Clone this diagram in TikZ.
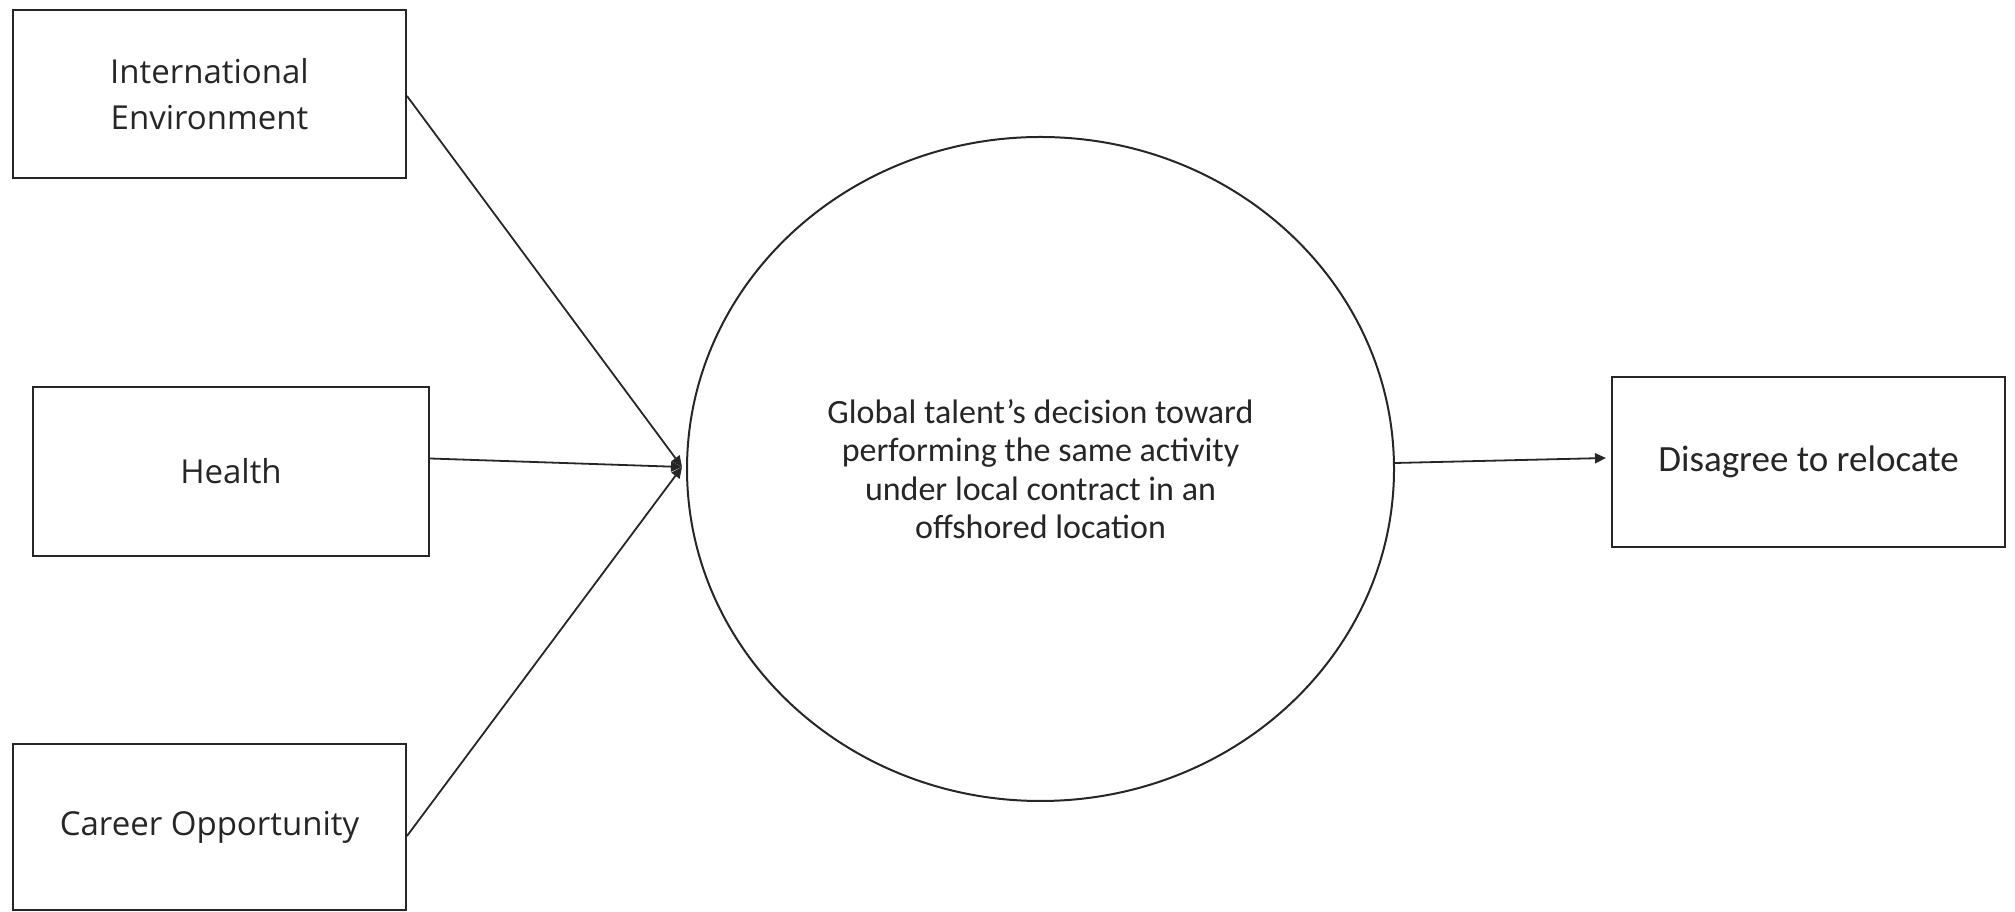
\documentclass[tikz,border=0pt]{standalone}
\usepackage{fontspec}
\newfontfamily\boxfont{Open Sans}
\newfontfamily\calfont{Carlito}
\usetikzlibrary{shapes.geometric,arrows.meta}
\tikzset{
  factor/.style={draw=black!85, line width=2pt, rectangle, inner sep=0pt, text=black!85,
    align=center, font=\boxfont\fontsize{33}{46}\selectfont},
  outbox/.style={draw=black!85, line width=2pt, rectangle, inner sep=0pt, text=black!85,
    align=center, font=\calfont\fontsize{37}{44}\selectfont},
  decision/.style={draw=black!85, line width=2pt, ellipse, inner sep=0pt, text=black!85,
    align=center, font=\calfont\fontsize{34}{38.5}\selectfont},
  link/.style={draw=black!85, line width=1.8pt, -{Triangle[length=11pt,width=10pt]}}
}
\begin{document}
\begin{tikzpicture}[x=1pt,y=1pt]
\useasboundingbox (0,0) rectangle (2015,912);
\node[factor, minimum width=393pt, minimum height=168pt] (b1) at (209.5,818) {International\\Environment};
\node[factor, minimum width=396pt, minimum height=169pt] (b2) at (231,440.5) {Health};
\node[factor, minimum width=393pt, minimum height=166pt] (b3) at (209.5,85) {Career Opportunity};
\node[outbox, minimum width=393pt, minimum height=170pt] (b4) at (1808.5,450) {Disagree to relocate};
\node[decision, minimum width=707pt, minimum height=664pt] (c) at (1040.5,443) {Global talent’s decision toward\\performing the same activity\\under local contract in an\\offshored location};
\coordinate (J) at (682,445);
\draw[link] ([yshift=-2pt]b1.east) -- (J);
\draw[link] ([yshift=13pt]b2.east) -- (J);
\draw[link] ([yshift=-9pt]b3.east) -- (J);
\draw[link] ([yshift=6pt]c.east) -- ([xshift=-5pt,yshift=4pt]b4.west);
\end{tikzpicture}
\end{document}
